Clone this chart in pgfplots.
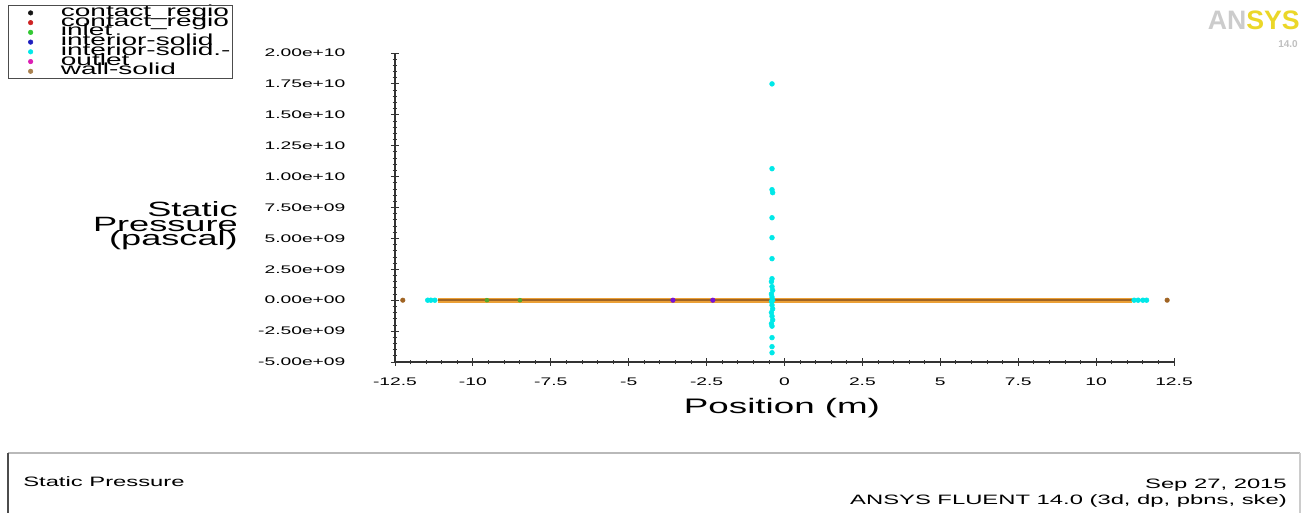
\documentclass[border=0pt]{standalone}
\usepackage{pgfplots}
\pgfplotsset{compat=1.18}
\usepackage{fontspec}
\setmainfont{Liberation Sans}[FakeStretch=1.75]
\newfontfamily\logofont{Liberation Sans}

\definecolor{creg1}{RGB}{20,20,20}
\definecolor{creg2}{RGB}{205,35,35}
\definecolor{inletc}{RGB}{50,200,50}
\definecolor{intsolid}{RGB}{30,30,190}
\definecolor{intsolid2}{RGB}{0,232,232}
\definecolor{outletc}{RGB}{220,30,180}
\definecolor{wallc}{RGB}{170,130,80}
\definecolor{wallline}{RGB}{235,160,55}
\definecolor{wallcore}{RGB}{160,100,35}
\definecolor{ansysyel}{RGB}{235,215,40}

\begin{document}
\begin{tikzpicture}[x=0.75pt,y=0.75pt]
\path[use as bounding box] (0,0) rectangle (1307,513);

\begin{axis}[
    at={(296.25pt,113.25pt)}, anchor=south west,
    scale only axis, width=584.25pt, height=231.75pt,
    xmin=-12.5, xmax=12.5, ymin=-5e9, ymax=2e10,
    axis lines=left,
    axis line style={-, black!80, line width=0.8pt},
    xtick={-12.5,-10,-7.5,-5,-2.5,0,2.5,5,7.5,10,12.5},
    xticklabels={-12.5,-10,-7.5,-5,-2.5,0,2.5,5,7.5,10,12.5},
    ytick={-5e9,-2.5e9,0,2.5e9,5e9,7.5e9,1e10,1.25e10,1.5e10,1.75e10,2e10},
    yticklabels={-5.00e+09,-2.50e+09,0.00e+00,2.50e+09,5.00e+09,7.50e+09,1.00e+10,1.25e+10,1.50e+10,1.75e+10,2.00e+10},
    scaled y ticks=false,
    minor x tick num=4, minor y tick num=4,
    tick align=center, major tick length=6pt, minor tick length=3.5pt,
    tick style={black!80, line width=0.6pt},
    ticklabel style={font=\fontsize{8.25}{9}\selectfont, inner sep=0pt},
    yticklabel style={xshift=-34pt},
    xticklabel style={yshift=-9pt},
    clip=false,
    legend style={at={(axis description cs:-0.471,1.155)}, anchor=north west,
        draw=none, fill=none, font=\fontsize{12}{12}\selectfont,
        nodes={text height=5.3pt, text depth=0pt, inner sep=0pt},
        row sep=2pt, column sep=21pt, inner xsep=0pt, inner ysep=3pt},
    legend cell align=left,
]
\addlegendimage{only marks, mark=*, mark size=1.7pt, creg1}
\addlegendimage{only marks, mark=*, mark size=1.7pt, creg2}
\addlegendimage{only marks, mark=*, mark size=1.7pt, inletc}
\addlegendimage{only marks, mark=*, mark size=1.7pt, intsolid}
\addlegendimage{only marks, mark=*, mark size=1.7pt, intsolid2}
\addlegendimage{only marks, mark=*, mark size=1.7pt, outletc}
\addlegendimage{only marks, mark=*, mark size=1.7pt, wallc}

% wall-solid: dense row of points along zero
\addplot[wallline, line width=3.8pt, forget plot] coordinates {(-11.12,0) (11.15,0)};
\addplot[wallcore, line width=1.6pt, forget plot] coordinates {(-11.12,0) (11.15,0)};
\addplot[only marks, mark=*, mark size=1.7pt, wallcore, forget plot]
    coordinates {(-12.25,0) (12.28,0)};

% inlet / interior-solid points on the line
\addplot[only marks, mark=*, mark size=1.5pt, inletc!70!wallcore, forget plot]
    coordinates {(-9.55,0) (-8.49,0)};
\addplot[only marks, mark=*, mark size=1.7pt, intsolid!60!magenta, forget plot]
    coordinates {(-2.3,0) (-3.58,0)};

% interior-solid (second zone)
\addplot[only marks, mark=*, mark size=1.8pt, intsolid2, forget plot] coordinates {
    (-11.45,0) (-11.35,0) (-11.22,0) (11.22,0) (11.35,0) (11.5,0) (11.62,0)
    (-0.4,1.75e10) (-0.4,1.064e10) (-0.4,8.94e9) (-0.38,8.70e9) (-0.4,6.67e9)
    (-0.4,5.06e9) (-0.4,3.36e9) (-0.4,1.74e9) (-0.42,1.5e9) (-0.4,1.1e9)
    (-0.38,0.8e9) (-0.42,0.5e9) (-0.4,0.25e9) (-0.38,0) (-0.42,-0.1e9)
    (-0.4,-0.4e9) (-0.38,-0.7e9) (-0.42,-1.0e9) (-0.4,-1.3e9) (-0.38,-1.6e9)
    (-0.42,-1.9e9) (-0.4,-2.1e9) (-0.4,-3.03e9) (-0.4,-3.76e9) (-0.4,-4.25e9)
};

\legend{contact\_regio, contact\_regio, inlet, interior-solid, interior-solid.-, outlet, wall-solid}
\end{axis}

% legend frame
\draw[black!70, line width=0.6pt] (8,508) rectangle (232,435);

% axis labels
\node[anchor=base east, inner sep=0pt, font=\fontsize{15.5}{15.5}\selectfont] at (238,296) {Static};
\node[anchor=base east, inner sep=0pt, font=\fontsize{15.5}{15.5}\selectfont] at (238,281) {Pressure};
\node[anchor=base east, inner sep=0pt, font=\fontsize{15.5}{15.5}\selectfont] at (238,267) {(pascal)};
\node[anchor=base, inner sep=0pt, font=\fontsize{15.75}{15.75}\selectfont] at (782,99) {Position (m)};

% logo
\node[anchor=north east, inner sep=0pt] at (1300,502)
    {\logofont\bfseries\fontsize{20}{20}\selectfont\textcolor{gray!40}{AN}\textcolor{ansysyel}{SYS}};
\node[anchor=north east, inner sep=0pt] at (1298,473)
    {\logofont\bfseries\fontsize{7.5}{7.5}\selectfont\textcolor{gray!50}{14.0}};

% bottom panel
\draw[gray!55, line width=1.5pt] (8,60) -- (1300,60);
\draw[black!70, line width=0.9pt] (8,60) -- (8,0);
\draw[gray!40, line width=0.9pt] (1300,60) -- (1300,0);
\node[anchor=base west, inner sep=0pt, font=\fontsize{10.2}{10.2}\selectfont] at (23,26) {Static Pressure};
\node[anchor=base east, inner sep=0pt, font=\fontsize{10.2}{10.2}\selectfont] at (1287,24) {Sep 27, 2015};
\node[anchor=base east, inner sep=0pt, font=\fontsize{10.2}{10.2}\selectfont] at (1287,8) {ANSYS FLUENT 14.0 (3d, dp, pbns, ske)};
\end{tikzpicture}
\end{document}
